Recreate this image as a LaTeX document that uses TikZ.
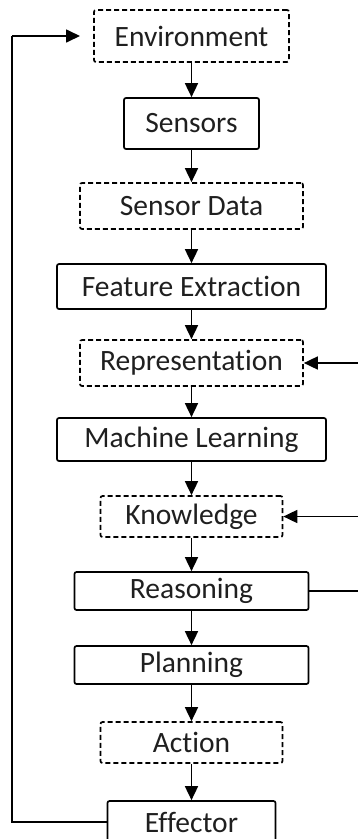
\documentclass[tikz,border=0pt]{standalone}
\usepackage{fontspec}
\setmainfont{Carlito}[Ligatures=NoCommon]
\usetikzlibrary{arrows.meta}
\begin{document}
\begin{tikzpicture}[x=1pt,y=-1pt,
  box/.style={draw=black,line width=1.7pt,rounded corners=2pt,inner sep=0pt,
    font=\fontsize{29.5}{33}\selectfont,text=black!88},
  solidbox/.style={box},
  dashbox/.style={box,dash pattern=on 5pt off 3pt},
  arr/.style={line width=1.7pt,-{Triangle[length=14pt,width=13pt]}},
  ln/.style={line width=1.7pt}]
\useasboundingbox (0,0) rectangle (358,839);
\node[dashbox,minimum width=195pt,minimum height=52pt] (env) at (191.5,36) {Environment};
\node[solidbox,minimum width=135pt,minimum height=51pt] (sens) at (191.5,123.5) {Sensors};
\node[dashbox,minimum width=223pt,minimum height=46pt] (sdata) at (191.5,206) {Sensor Data};
\node[solidbox,minimum width=269pt,minimum height=45pt] (fe) at (191.5,286.5) {Feature Extraction};
\node[dashbox,minimum width=223pt,minimum height=46pt] (rep) at (191.5,363) {Representation};
\node[solidbox,minimum width=269pt,minimum height=43pt] (ml) at (191.5,439.5) {Machine Learning};
\node[dashbox,minimum width=182pt,minimum height=41pt] (know) at (191.5,516.5) {Knowledge};
\node[solidbox,minimum width=234pt,minimum height=38pt] (reas) at (191.5,591) {Reasoning};
\node[solidbox,minimum width=234pt,minimum height=38pt] (plan) at (191.5,665) {Planning};
\node[dashbox,minimum width=182pt,minimum height=41pt] (act) at (191.5,742.5) {Action};
\node[solidbox,minimum width=168pt,minimum height=42pt] (eff) at (191.5,822) {Effector};
\draw[arr] (env) -- (sens);
\draw[arr] (sens) -- (sdata);
\draw[arr] (sdata) -- (fe);
\draw[arr] (fe) -- (rep);
\draw[arr] (rep) -- (ml);
\draw[arr] (ml) -- (know);
\draw[arr] (know) -- (reas);
\draw[arr] (reas) -- (plan);
\draw[arr] (plan) -- (act);
\draw[arr] (act) -- (eff);
\coordinate (fbtop) at (12,36);
\coordinate (envin) at (80,36);
\draw[ln] (eff.west) -| (fbtop);
\draw[arr] (fbtop) -- (envin);
\coordinate (r1) at (358,363);
\coordinate (r2) at (358,516.5);
\coordinate (r3) at (358,591);
\draw[arr] (r1) -- (rep.east);
\draw[arr] (r2) -- (know.east);
\draw[ln] (reas.east) -- (r3);
\end{tikzpicture}
\end{document}
